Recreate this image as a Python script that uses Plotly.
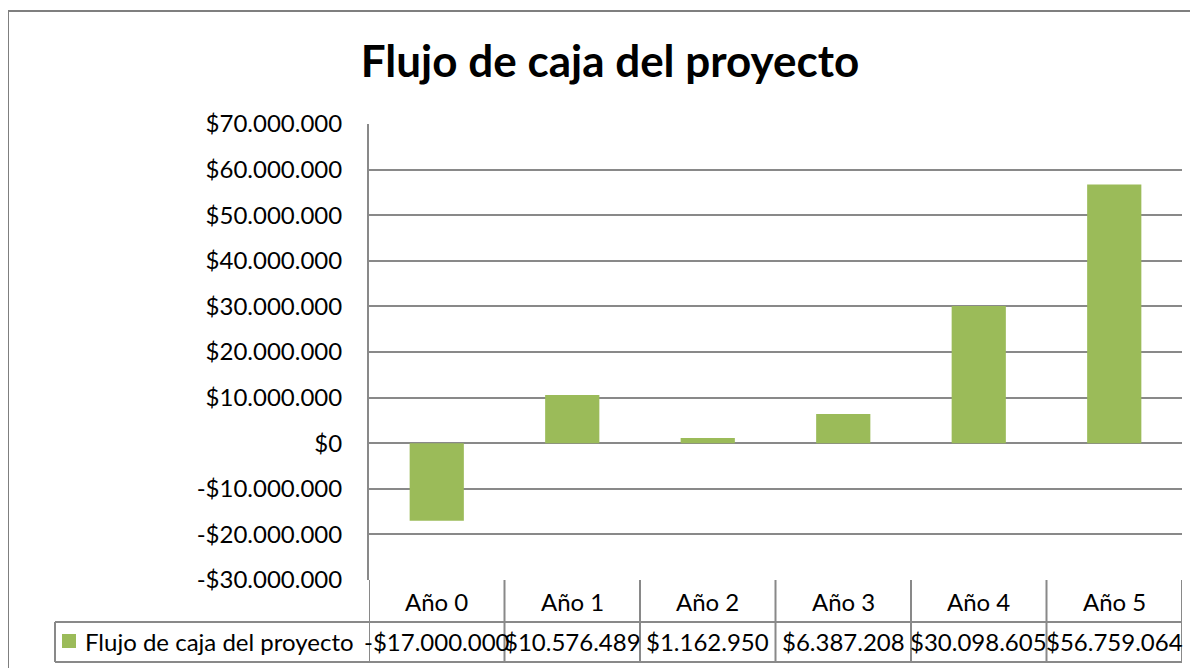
import plotly.graph_objects as go

# data
years = ["Año 0", "Año 1", "Año 2", "Año 3", "Año 4", "Año 5"]
flujo = [-17000000, 10576489, 1162950, 6387208, 30098605, 56759064]
serie_name = "Flujo de caja del proyecto"
y_ticks = [-30000000, -20000000, -10000000, 0, 10000000, 20000000,
           30000000, 40000000, 50000000, 60000000, 70000000]

bar_color = "#9BBB59"
line_color = "#898989"
font_family = "Lato, 'Open Sans', sans-serif"


def money(v):
    s = f"{abs(v):,}".replace(",", ".")
    return ("-" if v < 0 else "") + "$" + s


# page body adds an 8px offset, so work in window pixels and shift
OFF = 8
W, H = 1198 - OFF, 668 - OFF
left, right, top, bottom = 369, 1182, 124, 580


def px_x(px):
    return (px - left) / (right - left)


def px_y(py):
    return (bottom - py) / (bottom - top)


fig = go.Figure()
fig.add_trace(
    go.Bar(
        x=list(range(len(years))),
        y=flujo,
        name=serie_name,
        marker=dict(color=bar_color, line=dict(width=0)),
    )
)

shapes = []
annotations = []

# outer chart border
shapes.append(dict(type="rect", xref="paper", yref="paper",
                   x0=px_x(8), x1=px_x(1400), y0=px_y(900), y1=px_y(11),
                   line=dict(color="#7F7F7F", width=2), layer="below"))

# data table lines
row1 = px_y(622)
row2 = px_y(662)
for i in range(len(years) + 1):
    shapes.append(dict(type="line", xref="x", yref="paper",
                       x0=i - 0.5, x1=i - 0.5, y0=0, y1=row2,
                       line=dict(color=line_color, width=2)))
for yy in (row1, row2):
    shapes.append(dict(type="line", xref="paper", yref="paper",
                       x0=px_x(55), x1=1, y0=yy, y1=yy,
                       line=dict(color=line_color, width=2)))
shapes.append(dict(type="line", xref="paper", yref="paper",
                   x0=px_x(55), x1=px_x(55), y0=row1, y1=row2,
                   line=dict(color=line_color, width=2)))

# legend key in table
shapes.append(dict(type="rect", xref="paper", yref="paper",
                   x0=px_x(62), x1=px_x(76), y0=px_y(648), y1=px_y(634),
                   fillcolor=bar_color, line=dict(width=0)))
annotations.append(dict(text=serie_name, xref="paper", yref="paper",
                        x=px_x(83), y=px_y(641), xanchor="left", yanchor="middle",
                        showarrow=False, font=dict(size=24, color="#000000")))

for i, (yr, v) in enumerate(zip(years, flujo)):
    annotations.append(dict(text=yr, xref="x", yref="paper", x=i, y=px_y(601),
                            xanchor="center", yanchor="middle", showarrow=False,
                            font=dict(size=24, color="#000000")))
    annotations.append(dict(text=money(v), xref="x", yref="paper", x=i, y=px_y(641),
                            xanchor="center", yanchor="middle", showarrow=False,
                            font=dict(size=24, color="#000000")))

fig.update_layout(
    width=W,
    height=H,
    margin=dict(l=left - OFF, r=1198 - right, t=top - OFF, b=668 - bottom),
    paper_bgcolor="white",
    plot_bgcolor="white",
    font=dict(family=font_family, color="#000000"),
    title=dict(text="<b>Flujo de caja del proyecto</b>", x=(610 - OFF) / W,
               y=1 - (62 - OFF) / H, xanchor="center", yanchor="middle",
               font=dict(size=44, color="#000000")),
    showlegend=False,
    bargap=0.6,
    shapes=shapes,
    annotations=annotations,
)
fig.update_xaxes(range=[-0.5, len(years) - 0.5], showticklabels=False,
                 showgrid=False, zeroline=False, showline=False, ticks="")
fig.update_yaxes(range=[-30000000, 70000000], tickvals=y_ticks,
                 ticktext=[money(v) for v in y_ticks],
                 showgrid=True, gridcolor=line_color, gridwidth=2,
                 zeroline=True, zerolinecolor=line_color, zerolinewidth=2,
                 showline=True, linecolor=line_color, linewidth=2,
                 ticks="", ticklabelstandoff=20,
                 tickfont=dict(size=24, color="#000000"))

fig.write_html("out.html")
